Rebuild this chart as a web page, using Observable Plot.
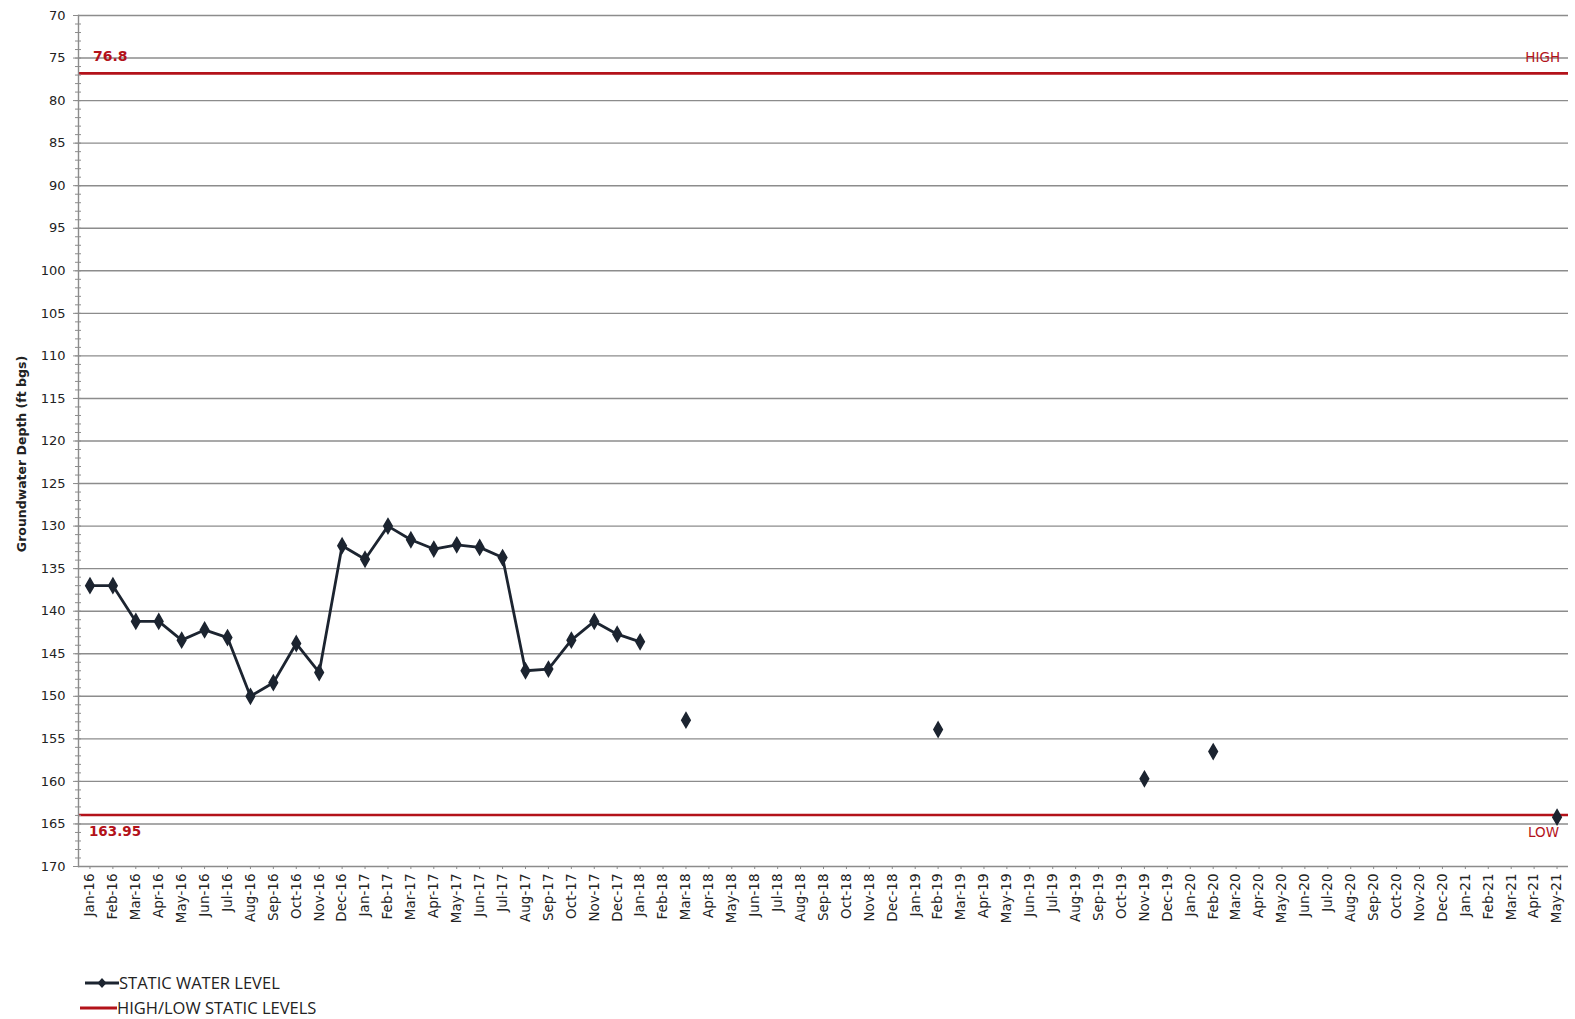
<!DOCTYPE html>
<html>
<head>
<meta charset="utf-8">
<script src="https://cdn.jsdelivr.net/npm/d3@7"></script>
<script src="https://cdn.jsdelivr.net/npm/@observablehq/plot@0.6"></script>
<style>
  html, body { margin: 0; padding: 0; background: #fff; }
  #chart { width: 1575px; }
  .legend { font-family: "Liberation Sans Narrow", "Open Sans", sans-serif; font-size: 16.5px; color: #222; margin-left: 80px; margin-top: 25px; }
  .legend .item { display: flex; align-items: center; height: 25px; }
  .legend svg { display: block; }
</style>
</head>
<body>
<div id="chart"></div>
<div class="legend">
  <div class="item"><svg width="39" height="14"><line x1="5" y1="7" x2="39" y2="7" stroke="#1c2430" stroke-width="3"/><path d="M22,2 L26.5,7 L22,12 L17.5,7 Z" fill="#1c2430"/></svg><span>STATIC WATER LEVEL</span></div>
  <div class="item"><svg width="37" height="14"><line x1="0" y1="7" x2="37" y2="7" stroke="#b3121a" stroke-width="3"/></svg><span>HIGH/LOW STATIC LEVELS</span></div>
</div>
<script>
// Month categories (x axis)
const months = [
  "Jan-16","Feb-16","Mar-16","Apr-16","May-16","Jun-16","Jul-16","Aug-16","Sep-16","Oct-16","Nov-16","Dec-16",
  "Jan-17","Feb-17","Mar-17","Apr-17","May-17","Jun-17","Jul-17","Aug-17","Sep-17","Oct-17","Nov-17","Dec-17",
  "Jan-18","Feb-18","Mar-18","Apr-18","May-18","Jun-18","Jul-18","Aug-18","Sep-18","Oct-18","Nov-18","Dec-18",
  "Jan-19","Feb-19","Mar-19","Apr-19","May-19","Jun-19","Jul-19","Aug-19","Sep-19","Oct-19","Nov-19","Dec-19",
  "Jan-20","Feb-20","Mar-20","Apr-20","May-20","Jun-20","Jul-20","Aug-20","Sep-20","Oct-20","Nov-20","Dec-20",
  "Jan-21","Feb-21","Mar-21","Apr-21","May-21"
];

// Continuous monthly record (connected line)
const seriesMonths = [
  "Jan-16","Feb-16","Mar-16","Apr-16","May-16","Jun-16","Jul-16","Aug-16","Sep-16","Oct-16","Nov-16","Dec-16",
  "Jan-17","Feb-17","Mar-17","Apr-17","May-17","Jun-17","Jul-17","Aug-17","Sep-17","Oct-17","Nov-17","Dec-17","Jan-18"
];
const seriesDepths = [
  137.0,137.0,141.2,141.2,143.4,142.2,143.1,150.0,148.4,143.8,147.2,132.3,
  133.9,130.0,131.6,132.7,132.2,132.5,133.7,147.0,146.8,143.4,141.2,142.7,143.6
];

// Isolated later measurements
const sparseMonths = ["Mar-18","Feb-19","Nov-19","Feb-20","May-21"];
const sparseDepths = [152.8, 153.9, 159.7, 156.5, 164.2];

const highLevel = 76.8;
const lowLevel = 163.95;
const yTicks = d3.range(70, 171, 5);
const yMinor = d3.range(70, 171, 1);

const lineData = seriesMonths.map((m, i) => ({month: m, depth: seriesDepths[i]}));
const dotData = lineData.concat(sparseMonths.map((m, i) => ({month: m, depth: sparseDepths[i]})));

const ink = "#1c2430";
const red = "#b3121a";
const grid = "#8c8c8c";

const chart = Plot.plot({
  width: 1575,
  height: 945,
  marginLeft: 78,
  marginRight: 7,
  marginTop: 15,
  marginBottom: 79,
  style: {fontFamily: "DejaVu Sans, sans-serif", background: "#fff", color: "#222"},
  x: {type: "point", domain: months, padding: 0.5, label: null},
  y: {domain: [70, 170], reverse: true, label: null},
  marks: [
    Plot.ruleY(yTicks, {stroke: grid, strokeWidth: 1.4}),
    Plot.ruleY([highLevel, lowLevel], {stroke: red, strokeWidth: 2.6}),
    Plot.frame({anchor: "left", stroke: grid, strokeWidth: 1.4}),
    Plot.axisY({ticks: yMinor, tickSize: 6, dx: 3, text: null, stroke: grid}),
    Plot.axisY({ticks: yTicks, tickSize: 5, tickPadding: 8, fontSize: 13, fill: "#222", stroke: grid, label: null}),
    Plot.axisX({tickRotate: -90, tickSize: 3, fontSize: 13.5, fill: "#222", stroke: grid, label: null, tickPadding: 4}),
    Plot.line(lineData, {x: "month", y: "depth", stroke: ink, strokeWidth: 2.8}),
    Plot.dot(dotData, {x: "month", y: "depth", symbol: "diamond", r: 4.5, fill: ink, stroke: ink, strokeWidth: 1.5}),
    Plot.text([highLevel], {x: () => months[0], y: d => d, text: d => String(d), dx: 3, dy: -17, textAnchor: "start", fill: red, fontWeight: "bold", fontSize: 14}),
    Plot.text([lowLevel], {x: () => months[0], y: d => d, text: d => String(d), dx: -1, dy: 17, textAnchor: "start", fill: red, fontWeight: "bold", fontSize: 13.5}),
    Plot.text(["HIGH"], {x: () => months[months.length - 1], y: () => highLevel, text: d => d, dx: 3, dy: -16, textAnchor: "end", fill: red, fontSize: 13.5}),
    Plot.text(["LOW"], {x: () => months[months.length - 1], y: () => lowLevel, text: d => d, dx: 2, dy: 18, textAnchor: "end", fill: red, fontSize: 13.5}),
    Plot.text(["Groundwater Depth (ft bgs)"], {frameAnchor: "left", text: d => d, rotate: -90, textAnchor: "middle", dx: -57, dy: 13, fontWeight: "bold", fontSize: 12.5, fill: "#222"})
  ]
});
document.getElementById("chart").appendChild(chart);
</script>
</body>
</html>
